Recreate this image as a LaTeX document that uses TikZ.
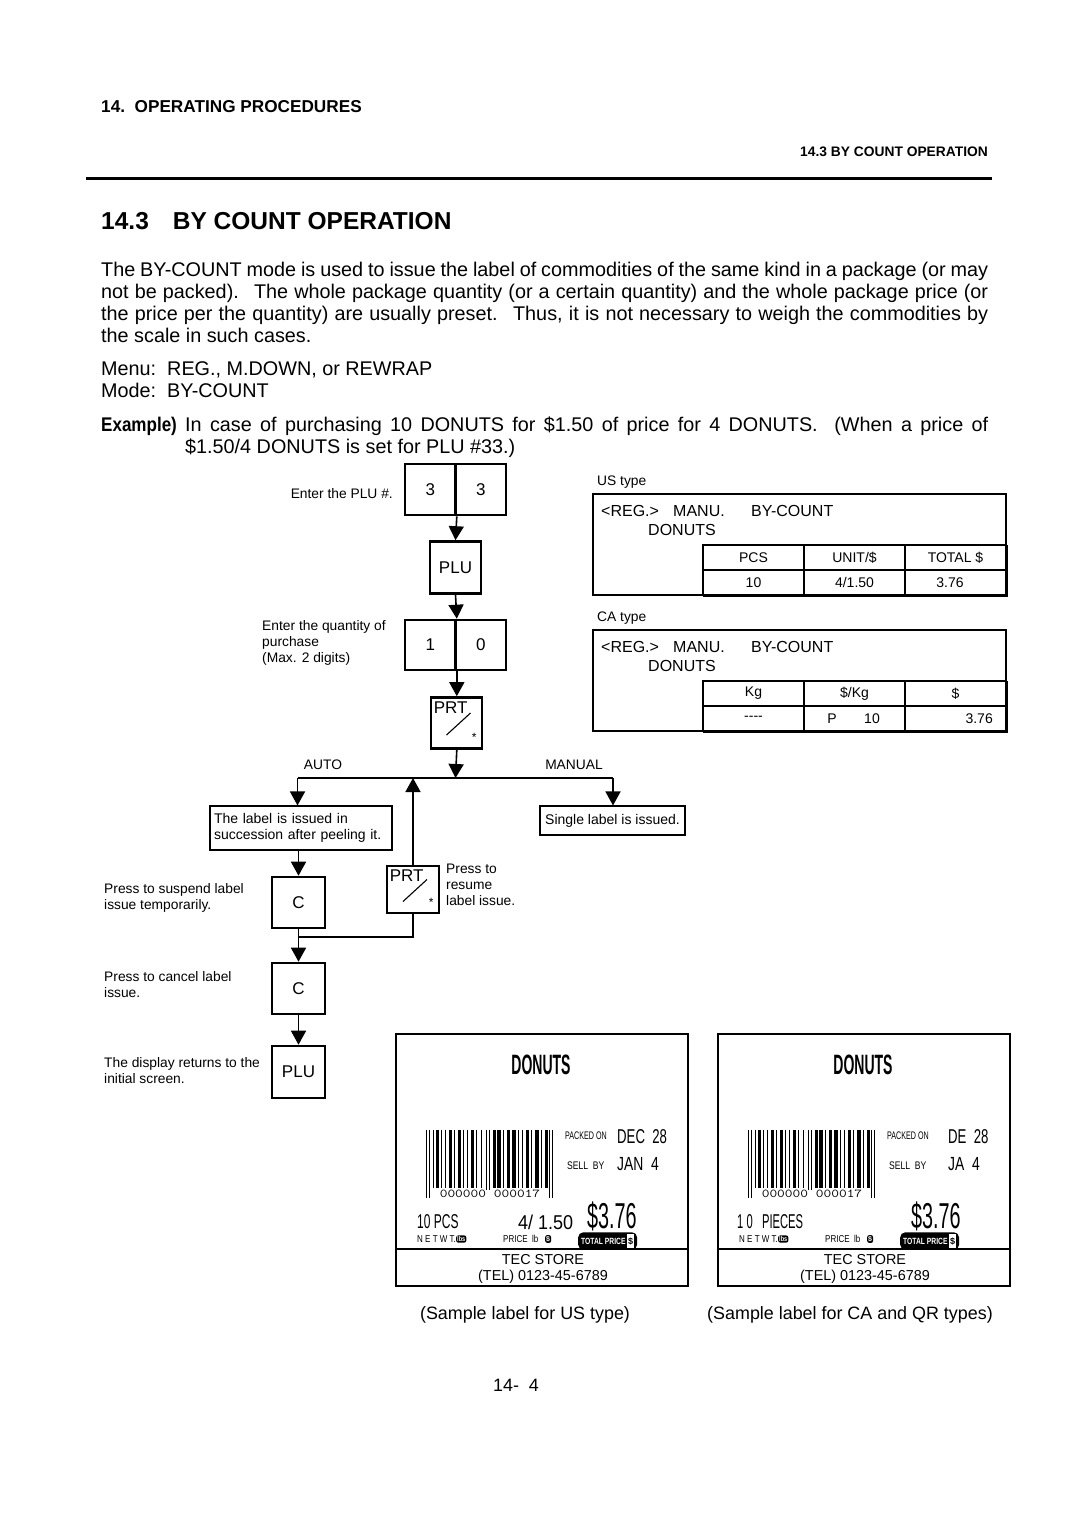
\documentclass[tikz,border=0pt]{standalone}
\usepackage{fontspec}
\setmainfont{Liberation Sans}
\usepackage{graphicx}
\usetikzlibrary{arrows.meta,positioning}

\newcommand\fsz[2]{\fontsize{#1}{#2}\selectfont}
\newcommand\hscale[2]{\scalebox{#1}[1]{#2}}
% PRT key face: text, slash and star inside an empty key node
\newcommand\prtface[1]{%
  \node[anchor=north west, inner sep=0pt, font=\fsz{17}{17}] (#1-txt) at ([shift={(4,5)}]#1.north west) {PRT};
  \draw[line width=1.1pt] ([shift={(-10,12)}]#1.center) -- ([shift={(14,-10)}]#1.center);
  \node[inner sep=0pt, font=\fsz{12}{12}] (#1-star) at ([shift={(-9,-12)}]#1.south east) {*};
}

\tikzset{
  keyBox/.style={draw, line width=2.6pt, minimum width=50.5pt, minimum height=51pt, inner sep=0pt, font=\fsz{17}{17}},
  noteBox/.style={draw, line width=1.1pt, align=left, inner sep=4pt, font=\fsz{14}{16.5}},
  note/.style={align=left, inner sep=0pt, font=\fsz{13.8}{16}},
  body/.style={inner sep=0pt, font=\fsz{19.8}{22}},
  dispTxt/.style={inner sep=0pt, font=\fsz{16}{17}},
  cellTxt/.style={inner sep=0pt, font=\fsz{14}{14}},
  lblTxt/.style={inner sep=0pt},
  flowArrow/.style={line width=1.6pt, -{Triangle[width=15pt,length=14pt]}},
  wire/.style={line width=1.6pt},
}

\begin{document}
\begin{tikzpicture}[x=1pt, y=-1pt]
    % Page frame
    \useasboundingbox (0,0) rectangle (1080,1528);
    \fill[white] (0,0) rectangle (1080,1528);
    % Page header
    \node[anchor=west, inner sep=0pt, font=\fsz{17.2}{18}\bfseries] (chapHead) at (101,107) {14.\ \ OPERATING PROCEDURES};
    \node[anchor=east, inner sep=0pt, font=\fsz{13.8}{15}\bfseries] (runHead) at (988,152) {14.3 BY COUNT OPERATION};
    \draw[line width=3pt] (86,178) -- (992,178);
    \node[anchor=base west, inner sep=0pt, font=\fsz{24.5}{28}\bfseries] (secHead) at (101,229) {14.3\hspace{24pt}BY COUNT OPERATION};
    % Body text
    \node[body, anchor=base west] (para1) at (101,276) {\makebox[887pt][s]{The BY-COUNT mode is used to issue the label of commodities of the same kind in a package (or may}};
    \node[body, anchor=base west] (para2) at (101,298) {\makebox[887pt][s]{not be packed). \ The whole package quantity (or a certain quantity) and the whole package price (or}};
    \node[body, anchor=base west] (para3) at (101,320) {\makebox[887pt][s]{the price per the quantity) are usually preset. \ Thus, it is not necessary to weigh the commodities by}};
    \node[body, anchor=base west] (para4) at (101,342) {the scale in such cases.};
    \node[body, anchor=base west] (menuLine) at (101,375) {Menu:\ \ REG., M.DOWN, or REWRAP};
    \node[body, anchor=base west] (modeLine) at (101,397) {Mode:\ \ BY-COUNT};
    \node[body, anchor=base west, font=\fsz{19.8}{22}\bfseries] (exHead) at (101,431) {\hscale{0.86}{Example)}};
    \node[body, anchor=base west] (ex1) at (185,431) {\makebox[803pt][s]{In case of purchasing 10 DONUTS for \$1.50 of price for 4 DONUTS. \ (When a price of}};
    \node[body, anchor=base west] (ex2) at (185,453) {\$1.50/4 DONUTS is set for PLU \#33.)};

    % Key sequence
    \node[keyBox] (k3a) at (430.25,489.5) {3};
    \node[keyBox] (k3b) at (480.75,489.5) {3};
    \node[keyBox, minimum width=51pt, minimum height=52pt] (plu1) at (455.5,567.5) {PLU};
    \node[keyBox, minimum height=50pt] (k1) at (430.25,645) {1};
    \node[keyBox, minimum height=50pt] (k0) at (480.75,645) {0};
    \node[keyBox, minimum width=51pt] (prt1) at (456.5,723) {};
    \prtface{prt1}
    \node[note, anchor=east] (enterPlu) at (393,494) {Enter the PLU \#.};
    \node[note, anchor=north west] (enterQty) at (262,620) {Enter the quantity of\\purchase\\(Max. 2 digits)};
    \draw[flowArrow] (k3a.south east) -- (plu1.north);
    \draw[flowArrow] (plu1.south) -- (k1.north east);
    \draw[flowArrow] (k1.south east) -- (k1.south east |- prt1.north);

    % Branch AUTO / MANUAL
    \coordinate (jMid) at (455.5,778);
    \coordinate (jLeft) at (297.5,778);
    \coordinate (jRight) at (613,778);
    \draw[flowArrow] (k1.south east |- prt1.south) -- (jMid);
    \draw[wire] (jLeft) -- (jRight);
    \node[note, anchor=center] (autoTxt) at (323,765) {AUTO};
    \node[note, anchor=center] (manualTxt) at (574,765) {MANUAL};
    \node[noteBox, minimum width=182pt, minimum height=44pt, text width=174pt] (autoBox) at (301,828) {The label is issued in\\succession after peeling it.};
    \node[noteBox, minimum width=145pt, minimum height=29pt] (singleBox) at (612.5,820.5) {Single label is issued.};
    \draw[flowArrow] (jLeft) -- (jLeft |- autoBox.north);
    \draw[flowArrow] (jRight) -- (jRight |- singleBox.north);

    % Suspend / resume / cancel
    \node[keyBox, minimum width=53pt] (c1) at (298.5,902.5) {C};
    \node[keyBox, minimum width=52pt, minimum height=47pt] (prt2) at (413,889.5) {};
    \prtface{prt2}
    \node[keyBox, minimum width=53pt] (c2) at (298.5,988.5) {C};
    \node[keyBox, minimum width=53pt, minimum height=52pt] (plu2) at (298.5,1072) {PLU};
    \coordinate (loopJoin) at (298.5,937);
    \draw[flowArrow] (autoBox.south -| c1) -- (c1.north);
    \draw[flowArrow] (prt2.north) -- (prt2.north |- jMid);
    \draw[wire] (prt2.south) |- (loopJoin);
    \draw[flowArrow] (c1.south) -- (c2.north);
    \draw[flowArrow] (c2.south) -- (plu2.north);
    \node[note, anchor=west] (suspendTxt) at (104,898) {Press to suspend label\\issue temporarily.};
    \node[note, anchor=west] (resumeTxt) at (446,885) {Press to\\resume\\label issue.};
    \node[note, anchor=west] (cancelTxt) at (104,985) {Press to cancel label\\issue.};
    \node[note, anchor=west] (returnTxt) at (104,1071) {The display returns to the\\initial screen.};

    % Display panels
    \node[note, anchor=west] (usType) at (597,482) {US type};
    \node[note, anchor=west] (caType) at (597,618) {CA type};
    \foreach \oy/\pn in {0/us, 136/ca}{
      \begin{scope}[yshift=-\oy pt]
        \draw[line width=1.6pt] (593,494) rectangle (1006,595);
        \draw[line width=1.1pt] (703,545) rectangle (1006,595);
        \draw[line width=1.1pt] (804,545) -- (804,595) (905,545) -- (905,595) (703,570) -- (1006,570);
        \draw[line width=2.4pt] (703,595.5) -- (1006.5,595.5) -- (1006.5,545);
        \node[dispTxt, anchor=base west] (\pn-reg) at (601,516) {<REG.>};
        \node[dispTxt, anchor=base west] (\pn-manu) at (673,516) {MANU.};
        \node[dispTxt, anchor=base west] (\pn-mode) at (751,516) {BY-COUNT};
        \node[dispTxt, anchor=base west] (\pn-item) at (648,535) {DONUTS};
      \end{scope}
    }
    \node[cellTxt] (usH1) at (753.5,557.5) {PCS};
    \node[cellTxt] (usH2) at (854.5,557.5) {UNIT/\$};
    \node[cellTxt] (usH3) at (955.5,557.5) {TOTAL \$};
    \node[cellTxt] (usV1) at (753.5,582.5) {10};
    \node[cellTxt] (usV2) at (854.5,582.5) {4/1.50};
    \node[cellTxt] (usV3) at (950,582.5) {3.76};
    \node[cellTxt] (caH1) at (753.5,693.5) {Kg};
    \node[cellTxt] (caH2) at (854.5,693.5) {\$/Kg};
    \node[cellTxt] (caH3) at (955.5,693.5) {\$};
    \node[cellTxt] (caV1) at (753.5,718.5) {{-}{-}{-}{-}};
    \node[cellTxt] (caV2a) at (832,718.5) {P};
    \node[cellTxt] (caV2b) at (872,718.5) {10};
    \node[cellTxt, anchor=east] (caV3) at (993,718.5) {3.76};

    % Sample labels (common parts)
    \foreach \ox/\lb in {0/us, 322/ca}{
      \begin{scope}[xshift=\ox pt]
        \draw[line width=1.3pt] (396,1034) rectangle (688,1286);
        \draw[line width=1.1pt] (396,1249) -- (688,1249);
        \node[lblTxt, font=\fsz{28}{28}\bfseries] (\lb-title) at (541,1065) {\hscale{0.5}{DONUTS}};
        % Barcode
        \foreach \bx/\bw in {7/1.3,10/2.6,15/1.3,19/1.3,23/2.6,28/1.3,32/2.6,37/1.3,41/1.3,45/2.6,50/1.3,55/1.3,67/2.6,71/3.5,77/1.3,81/2.6,86/3.5,92/1.3,96/1.3,100/2.6,105/1.3,109/3.5,115/1.3,119/2.6}
          \fill (426+\bx,1130) rectangle (426+\bx+\bw,1188);
        \foreach \bx in {0,3,60,63,123,126}
          \fill (426+\bx,1130) rectangle (427.3+\bx,1198);
        \node[lblTxt, font=\fsz{12}{12}, fill=white, inner sep=0.5pt] (\lb-code) at (490,1194) {\hscale{1.25}{\texttt{000000 000017}}};
        \node[lblTxt, font=\fsz{11}{11}, anchor=west] (\lb-packed) at (565,1136) {\hscale{0.65}{PACKED ON}};
        \node[lblTxt, font=\fsz{11}{11}, anchor=west] (\lb-sell) at (567,1166) {\hscale{0.78}{SELL\ \ BY}};
        \node[lblTxt, font=\fsz{10}{10}, anchor=west] (\lb-netwt) at (417,1239) {\hscale{0.8}{N E T W T.}};
        \node[lblTxt, font=\fsz{7}{7}\bfseries, fill=black, text=white, rounded corners=2pt, inner sep=1pt, anchor=west] (\lb-lbs) at (456,1239) {\hscale{0.8}{lbs}};
        \node[lblTxt, font=\fsz{10}{10}, anchor=west] (\lb-price) at (503,1239) {\hscale{0.8}{PRICE\ \ lb}};
        \node[lblTxt, font=\fsz{7}{7}\bfseries, fill=black, text=white, rounded corners=2pt, inner sep=1pt, anchor=west] (\lb-pd) at (545,1239) {\$};
        \node[lblTxt, font=\fsz{9}{9}\bfseries, fill=black, text=white, rounded corners=5pt, inner xsep=3pt, inner ysep=2pt, anchor=west] (\lb-total) at (578,1241) {\hscale{0.75}{TOTAL PRICE}\,\colorbox{white}{\hspace{-2pt}\textcolor{black}{\$}\hspace{-2pt}}};
        \node[lblTxt, font=\fsz{14.4}{15}] (\lb-store) at (543,1260) {TEC STORE};
        \node[lblTxt, font=\fsz{14.4}{15}] (\lb-tel) at (543,1277) {(TEL) 0123-45-6789};
      \end{scope}
    }
    % Sample label for US type
    \node[lblTxt, font=\fsz{20}{20}, anchor=west] (usDate) at (617,1137) {\hscale{0.66}{DEC\ \ 28}};
    \node[lblTxt, font=\fsz{19}{19}, anchor=west] (usSell) at (617,1164) {\hscale{0.73}{JAN\ \ 4}};
    \node[lblTxt, font=\fsz{20}{20}, anchor=west] (usQty) at (417,1222) {\hscale{0.6}{10 PCS}};
    \node[lblTxt, font=\fsz{20}{20}, anchor=west] (usUnit) at (518,1222) {\hscale{0.9}{4/ 1.50}};
    \node[lblTxt, font=\fsz{36}{36}, anchor=west] (usTotal) at (587,1216) {\hscale{0.55}{\$3.76}};
    % Sample label for CA and QR types
    \node[lblTxt, font=\fsz{20}{20}, anchor=west] (caDate) at (948,1137) {\hscale{0.66}{DE\ \ 28}};
    \node[lblTxt, font=\fsz{19}{19}, anchor=west] (caSell) at (948,1164) {\hscale{0.73}{JA\ \ 4}};
    \node[lblTxt, font=\fsz{20}{20}, anchor=west] (caQty) at (737,1222) {\hscale{0.56}{1 0\ \ \ PIECES}};
    \node[lblTxt, font=\fsz{36}{36}, anchor=west] (caTotal) at (911,1216) {\hscale{0.55}{\$3.76}};

    % Captions and page number
    \node[body, font=\fsz{17.9}{20}] (usCap) at (525,1315) {(Sample label for US type)};
    \node[body, font=\fsz{17.9}{20}] (caCap) at (850,1315) {(Sample label for CA and QR types)};
    \node[body, font=\fsz{17.9}{20}] (pageNo) at (516,1385) {14-\ \ 4};
\end{tikzpicture}
\end{document}
